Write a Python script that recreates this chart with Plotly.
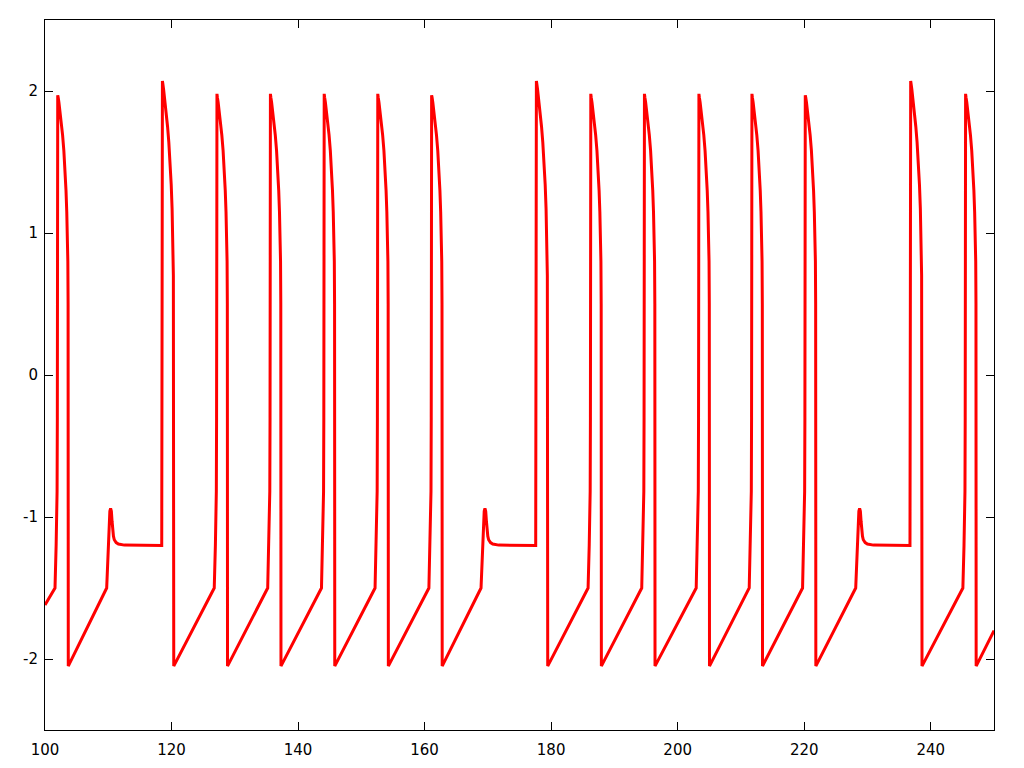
import plotly.graph_objects as go

# ---- data ----
t_start, v_start = 100.0, -1.62
t_end, v_end = 250.0, -1.80

# regular spikes: onset time (end of linear ramp) and peak value
reg_onsets = [101.58, 126.75, 135.20, 143.70, 152.17, 160.68,
              185.84, 194.32, 202.93, 211.31, 219.74, 245.08]
reg_peaks = [1.97, 1.98, 1.98, 1.98, 1.98, 1.97,
             1.98, 1.98, 1.98, 1.98, 1.97, 1.98]

# small bumps (onset at end of ramp) followed by plateau
bump_onsets = [109.75, 168.92, 228.14]

# big spikes at end of plateau
big_onsets = [118.45, 177.56, 236.72]
big_peaks = [2.07, 2.07, 2.07]

# shape of a regular spike (offset from onset, value); peak placeholder None
reg_dt = [0.0, 0.18, 0.33, 0.37, 0.40, 0.43, 0.50, 0.62, 0.80, 1.00, 1.20,
          1.40, 1.58, 1.74, 1.86, 1.96, 2.03, 2.07, 2.10]
reg_v = [-1.50, -1.20, -0.82, -0.30, 1.20, None, 1.955, 1.92, 1.86, 1.78, 1.69,
         1.58, 1.45, 1.30, 1.15, 0.98, 0.80, 0.50, -2.05]

# shape of a small bump
bump_dt = [0.0, 0.20, 0.38, 0.50, 0.62, 0.74, 0.85, 0.95, 1.07, 1.20, 1.50, 1.85, 2.80]
bump_v = [-1.50, -1.25, -1.02, -0.96, -0.94, -0.96, -1.03, -1.09, -1.135, -1.16, -1.18, -1.19, -1.198]
plateau_v = -1.20

# shape of a big spike (offset from onset at plateau end)
big_dt = [0.0, 0.05, 0.11, 0.18, 0.30, 0.48, 0.70, 0.92, 1.12, 1.32, 1.50, 1.64, 1.76, 1.84, 1.90]
big_v = [-1.20, 0.60, None, 2.05, 2.01, 1.94, 1.85, 1.75, 1.64, 1.50, 1.34, 1.17, 0.97, 0.70, -2.05]

# axis ticks
x_ticks = [100, 120, 140, 160, 180, 200, 220, 240]
x_labels = ["100", "120", "140", "160", "180", "200", "220", "240"]
y_ticks = [-2, -1, 0, 1, 2]
y_labels = ["-2", "-1", "0", "1", "2"]

# ---- assemble trace ----
events = []
for o, p in zip(reg_onsets, reg_peaks):
    events.append((o, [(o + d, p if v is None else v) for d, v in zip(reg_dt, reg_v)]))
for o in bump_onsets:
    events.append((o, [(o + d, v) for d, v in zip(bump_dt, bump_v)]))
for o, p in zip(big_onsets, big_peaks):
    pts = [(o + d, p if v is None else v) for d, v in zip(big_dt, big_v)]
    pts[0] = (o, plateau_v)
    events.append((o, pts))
events.sort(key=lambda e: e[0])

xs, ys = [t_start], [v_start]
for _, pts in events:
    for x, y in pts:
        xs.append(x)
        ys.append(y)
xs.append(t_end)
ys.append(v_end)

fig = go.Figure()
fig.add_trace(go.Scatter(x=xs, y=ys, mode="lines",
                         line=dict(color="#ff0000", width=3),
                         showlegend=False, hoverinfo="skip"))

axis_common = dict(showgrid=False, zeroline=False, showline=True, linecolor="black",
                   linewidth=1, mirror="ticks", ticks="inside", ticklen=8,
                   tickcolor="black", tickwidth=1,
                   tickfont=dict(family="DejaVu Sans", size=15, color="black"))

fig.update_layout(
    width=1024, height=768,
    margin=dict(l=37, r=38, t=12, b=46),
    paper_bgcolor="white", plot_bgcolor="white",
    xaxis=dict(range=[100, 250], tickmode="array", tickvals=x_ticks, ticktext=x_labels,
               ticklabelstandoff=6, **axis_common),
    yaxis=dict(range=[-2.5, 2.5], tickmode="array", tickvals=y_ticks, ticktext=y_labels,
               ticklabelstandoff=3, **axis_common),
)

fig.write_html("out.html")
